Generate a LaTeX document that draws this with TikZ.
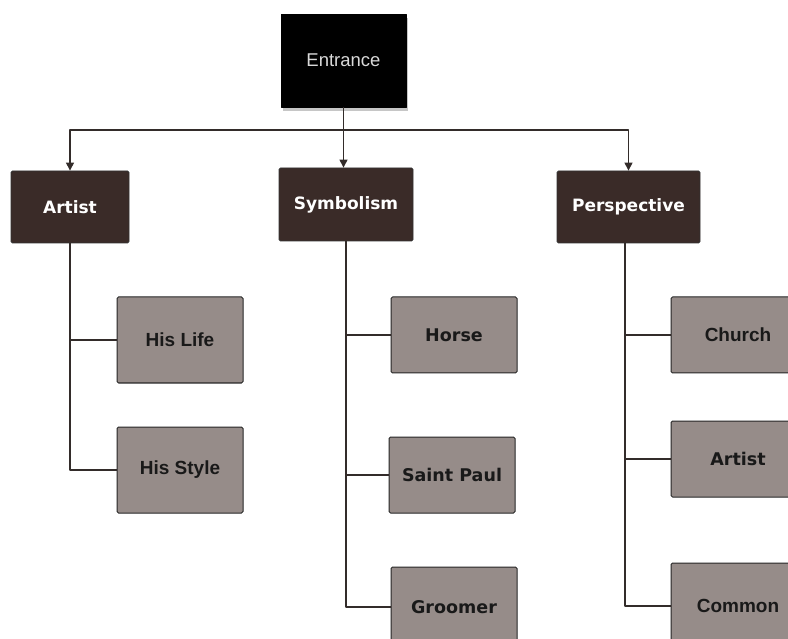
\documentclass[tikz,border=0pt]{standalone}
\usepackage{fontspec}
\usepackage{xcolor}
\usepackage{tikz}
\usetikzlibrary{arrows.meta,shadows}
\newfontfamily\hdfont{DejaVu Sans}
\newfontfamily\lffont{Liberation Sans}
\definecolor{headbrown}{HTML}{3A2B28}
\definecolor{leafgray}{HTML}{968C89}
\definecolor{linegray}{HTML}{332C2A}
\begin{document}
\begin{tikzpicture}[x=1pt, y=-1pt, line join=round,
  headbox/.style={draw=black!80, fill=headbrown, rounded corners=1.5pt, line width=0.8pt,
    minimum width=#1, minimum height=72pt, inner sep=0pt, text=white, font=\hdfont\bfseries\fontsize{17}{19}\selectfont},
  leafbox/.style={draw=black!85, fill=leafgray, rounded corners=1.5pt, line width=1pt,
    minimum width=126pt, minimum height=76pt, inner sep=0pt, text=black!90},
  wide/.style={font=\hdfont\bfseries\fontsize{17.5}{19}\selectfont},
  narrow/.style={font=\lffont\bfseries\fontsize{19}{21}\selectfont},
  link/.style={draw=linegray, line width=1.1pt},
  arr/.style={link, -{Triangle[width=8pt,length=8pt]}}]
\useasboundingbox (0,0) rectangle (788,639);
\clip (0,0) rectangle (788,639);
% Entrance on top
\node[fill=black, draw=black, minimum width=125pt, minimum height=93pt, inner sep=0pt,
  text=black!15, font=\lffont\fontsize{18.5}{20}\selectfont,
  drop shadow={shadow xshift=2pt, shadow yshift=-4pt, opacity=0.45}] (ent) at (343.5,60.5) {Entrance};
% Hub of the bar
\coordinate (hub) at (344,130);
% Three headers
\node[headbox=118pt] (art) at (70,207) {Artist};
\node[headbox=134pt, minimum height=73pt] (sym) at (346,204.5) {Symbolism};
\node[headbox=143pt] (per) at (628.5,207) {Perspective};
% Leaves of Artist
\node[leafbox, narrow, minimum height=86pt] (life) at (180,340) {His Life};
\node[leafbox, narrow, minimum height=86pt] (style) at (180,470) {His Style};
% Leaves of Symbolism
\node[leafbox, wide] (horse) at (454,335) {Horse};
\node[leafbox, wide] (paul) at (452,475) {Saint Paul};
\node[leafbox, wide, minimum height=80pt] (groom) at (454,607) {Groomer};
% Leaves of Perspective
\node[leafbox, narrow, minimum width=134pt] (church) at (738,335) {Church};
\node[leafbox, wide, minimum width=134pt] (artb) at (738,459) {Artist};
\node[leafbox, narrow, minimum width=134pt, minimum height=86pt] (common) at (738,606) {Common};
% Entrance to headers
\draw[arr] (ent.south) -- (ent.south |- sym.north);
\draw[arr] (hub) -| (art.north);
\draw[arr] (hub) -| (per.north);
% Trunks and branches
\draw[link] (art.south) |- (life.west);
\draw[link] (art.south) |- (style.west);
\draw[link] (sym.south) |- (horse.west);
\draw[link] (sym.south) |- (paul.west);
\draw[link] (sym.south) |- (groom.west);
\coordinate (pt) at (625,243);
\draw[link] (pt) |- (church.west);
\draw[link] (pt) |- (artb.west);
\draw[link] (pt) |- (common.west);
\end{tikzpicture}
\end{document}
